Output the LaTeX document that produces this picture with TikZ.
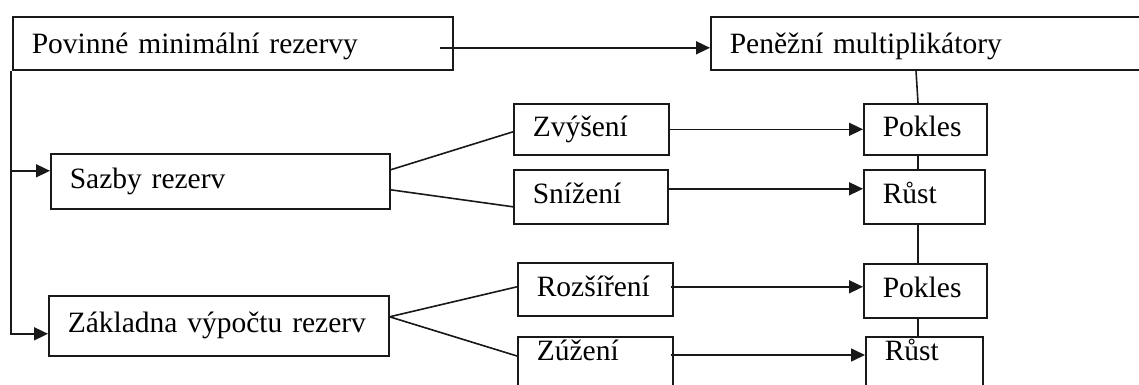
\documentclass[tikz,border=0pt]{standalone}
\usepackage{fontspec}
\setmainfont[WordSpace=0.6]{Liberation Serif}
\usetikzlibrary{arrows.meta,calc}
\begin{document}
\begin{tikzpicture}[x=1pt,y=-1pt,
  font=\fontsize{29.5}{34}\selectfont,
  line width=1.6pt, draw=black!90,
  box/.style={draw=black!90, anchor=north west, inner xsep=19pt, inner ysep=0pt,
    align=left, text height=20pt, text depth=6pt},
  arr/.style={-{Triangle[length=14pt,width=13pt]}}]
\clip (0,0) rectangle (1139,385);
\fill[white] (0,0) rectangle (1139,385);
% boxes
\node[box, text width=402pt, minimum height=53pt, text height=22pt, text depth=1pt] (pmr) at (12,16) {Povinné minimální rezervy};
\node[box, text width=402pt, minimum height=53pt, text height=22pt, text depth=1pt] (pm) at (710,16) {Peněžní multiplikátory};
\node[box, text width=301pt, minimum height=55pt] (sazby) at (50,153) {Sazby rezerv};
\node[box, text width=302pt, minimum height=60pt] (zaklad) at (48,295) {Základna výpočtu rezerv};
\node[box, text width=117pt, minimum height=51pt] (zvys) at (513,103) {Zvýšení};
\node[box, text width=116pt, minimum height=54pt] (sniz) at (513,169) {Snížení};
\node[box, text width=117pt, minimum height=53pt] (rozs) at (517,262) {Rozšíření};
\node[box, text width=117pt, text depth=44pt, inner ysep=4pt] (zuz) at (517,336) {Zúžení};
\node[box, text width=85pt, minimum height=51pt] (pok1) at (863,103) {Pokles};
\node[box, text width=83pt, minimum height=54pt] (rust1) at (863,169) {Růst};
\node[box, text width=85pt, minimum height=54pt] (pok2) at (863,263) {Pokles};
\node[box, text width=79pt, text depth=44pt, inner ysep=4pt] (rust2) at (865,336) {Růst};
% top arrow
\draw[arr] ([xshift=-14pt,yshift=-4.5pt]pmr.east) -- ([yshift=-4.5pt]pm.west);
% left tree
\coordinate (sa) at ([yshift=10.5pt]sazby.west);
\draw[arr] ([xshift=-1pt]pmr.south west) |- ([yshift=-8pt]zaklad.west);
\draw[arr] ([xshift=-1pt]pmr.south west |- sa) -- (sa);
% fan-outs
\draw ([yshift=11.5pt]sazby.east) -- ([yshift=-2.5pt]zvys.west);
\draw ([yshift=-8.5pt]sazby.east) -- ([yshift=-10pt]sniz.west);
\draw ([yshift=9pt]zaklad.east) -- ([yshift=2.5pt]rozs.west);
\draw ([yshift=9pt]zaklad.east) -- ([yshift=-20pt]zuz.north west);
% horizontal arrows
\coordinate (zv) at ([xshift=-2pt]zvys.east);
\coordinate (sn) at ([yshift=8pt]sniz.east);
\coordinate (ro) at ([xshift=-3pt,yshift=2.5pt]rozs.east);
\coordinate (zu) at ([xshift=-3pt,yshift=-19pt]zuz.north east);
\draw[arr] (zv) -- (zv -| pok1.west);
\draw[arr] (sn) -- (sn -| rust1.west);
\draw[arr] (ro) -- (ro -| pok2.west);
\draw[arr] (zu) -- (zu -| rust2.west);
% vertical chain
\coordinate (vx) at (918,0);
\draw ([xshift=206pt]pm.south west) -- (pok1.north -| vx);
\draw (pok1.south -| vx) -- (rust1.north -| vx);
\draw (rust1.south -| vx) -- (pok2.north -| vx);
\draw (pok2.south -| vx) -- (rust2.north -| vx);
\end{tikzpicture}
\end{document}
